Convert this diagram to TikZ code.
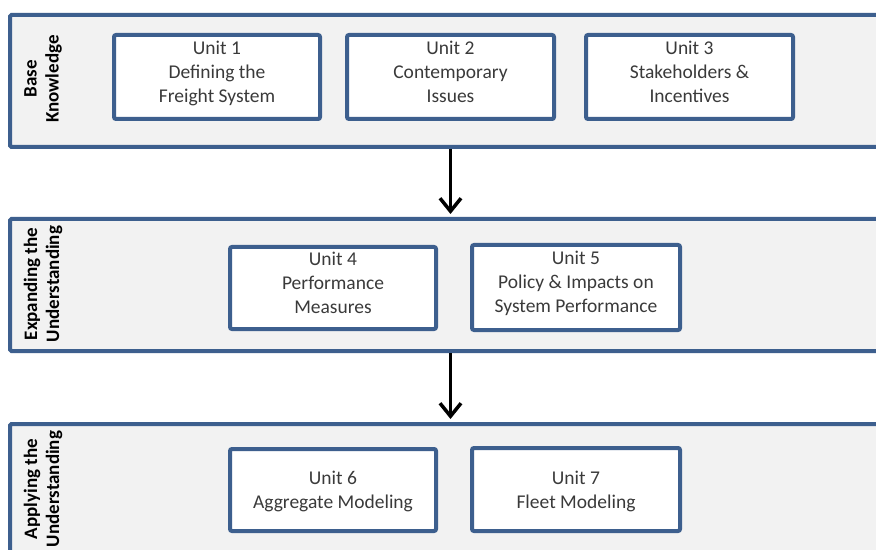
\documentclass[tikz,border=0pt]{standalone}
\usepackage{fontspec}
\setmainfont{Carlito}
\usetikzlibrary{arrows.meta,calc}
\definecolor{bandblue}{HTML}{3D5F8E}
\definecolor{bandfill}{HTML}{F2F2F2}
\definecolor{txt}{HTML}{3A3A3A}
\tikzset{
  band/.style={draw=bandblue, fill=bandfill, line width=4bp, rounded corners=1.5bp, minimum width=892bp, minimum height=132bp, anchor=north west, inner sep=0},
  unitbox/.style={draw=bandblue, fill=white, line width=4bp, rounded corners=2bp, minimum height=84bp, anchor=north west, inner sep=0, align=center, text=txt, text depth=11bp, font=\fontsize{19.5bp}{24bp}\selectfont},
  bandlabel/.style={rotate=90, align=center, font=\bfseries\fontsize{19bp}{22bp}\selectfont, text=black},
  flow/.style={line width=3.5bp, -{Straight Barb[length=13bp,width=21bp,line width=3.5bp]}}
}
\begin{document}
\begin{tikzpicture}[x=1bp,y=-1bp]
\useasboundingbox (0,0) rectangle (876,550);
\clip (0,0) rectangle (876,550);
\fill[white] (0,0) rectangle (876,550);
\node[band] (b1) at (8,13) {};
\node[band] (b2) at (8,217) {};
\node[band] (b3) at (8,422) {};
\node[bandlabel] (l1) at (43,79) {Base\\Knowledge};
\node[bandlabel] (l2) at (43,284) {Expanding the\\Understanding};
\node[bandlabel] (l3) at (43,489) {Applying the\\Understanding};
\node[unitbox, minimum width=206bp] (u1) at (112,33) {Unit 1\\Defining the\\Freight System};
\node[unitbox, minimum width=207bp] (u2) at (345,33) {Unit 2\\Contemporary\\Issues};
\node[unitbox, minimum width=207bp] (u3) at (584,33) {Unit 3\\Stakeholders \&\\Incentives};
\node[unitbox, minimum width=206bp, minimum height=82bp] (u4) at (228,245) {Unit 4\\Performance\\Measures};
\node[unitbox, minimum width=208bp, minimum height=85bp] (u5) at (470,243) {Unit 5\\Policy \& Impacts on\\System Performance};
\node[unitbox, minimum width=206bp, minimum height=82bp, text depth=0bp] (u6) at (228,447) {Unit 6\\Aggregate Modeling};
\node[unitbox, minimum width=208bp, minimum height=83bp, text depth=0bp] (u7) at (470,446) {Unit 7\\Fleet Modeling};
\draw[flow] (u2.south |- b1.south) -- ($(u2.south |- b2.north)+(0,-3)$);
\draw[flow] (u2.south |- b2.south) -- ($(u2.south |- b3.north)+(0,-3)$);
\end{tikzpicture}
\end{document}
